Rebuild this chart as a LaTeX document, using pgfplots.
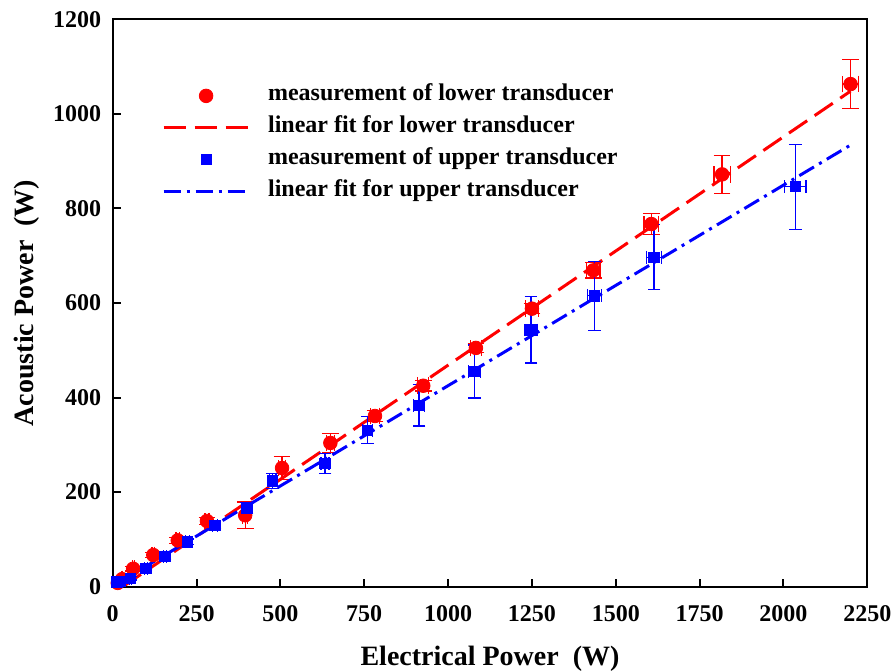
\documentclass[border=0pt]{standalone}
\usepackage{fontspec}
\setmainfont{Liberation Serif}
\usepackage{pgfplots}
\usepackage{pgfplotstable}
\pgfplotsset{compat=1.18}

\pgfplotstableread{
x y ex ey
15 8 1 3
28 16 2 4
61 38 3 5
121 67 4 6
194 98 5 6
281 139 6 7
395 151 8 28
505 251 10 25
649 304 12 20
782 361 14 12
926 425 16 11
1083 505 17 10
1250 588 19 11
1433 669 20 16
1606 767 22 22
1817 872 24 40
2200 1063 23 52
}\lowerdata

\pgfplotstableread{
x y ex ey
12 10 1 3
22 11 2 3
52 18 3 4
99 39 4 5
156 64 5 6
222 95 6 6
305 130 7 7
400 166 8 12
477 224 10 16
633 261 12 21
760 331 14 29
913 384 16 44
1078 455 18 56
1247 543 20 70
1436 615 21 73
1614 697 22 69
2035 846 32 90
}\upperdata

\begin{document}
\begin{tikzpicture}
\begin{axis}[
  scale only axis,
  width=377.3pt, height=283.7pt,
  xmin=0, xmax=2250, ymin=0, ymax=1200,
  xtick={0,250,...,2250},
  ytick={0,200,...,1200},
  xtick pos=lower, ytick pos=left,
  tick align=inside,
  major tick length=4pt,
  tick style={line width=1pt, black},
  axis line style={line width=1pt, black},
  /pgf/number format/assume math mode=true,
  /pgf/number format/1000 sep={},
  ticklabel style={font=\fontsize{12}{14}\selectfont\bfseries},
  xticklabel style={yshift=-6pt},
  yticklabel style={xshift=-2.3pt},
  xlabel={Electrical Power\ \ (W)},
  ylabel={Acoustic Power\ \ (W)},
  label style={font=\fontsize{14}{16}\selectfont\bfseries},
  xlabel style={at={(axis description cs:0.5,0)}, anchor=north, yshift=-26pt},
  ylabel style={at={(axis description cs:0,0.5)}, anchor=south, yshift=33pt},
  legend cell align=left,
  legend image code/.code={\draw[mark repeat=2,mark phase=2] plot coordinates {(0pt,0pt) (21.25pt,0pt) (42.5pt,0pt)};},
  legend style={at={(axis description cs:0,1)}, anchor=north west,
    xshift=24.5pt, yshift=-30.6pt, draw=none, fill=none,
    font=\fontsize{12}{14}\selectfont\bfseries,
    inner sep=0pt, row sep=0.9pt,
    /tikz/every odd column/.append style={column sep=7.5pt},
    nodes={inner sep=1.5pt, text height=8.5pt, text depth=3.5pt}},
]
\addplot[only marks, color=red, mark=*, mark size=3.4pt,
  error bars/.cd, x dir=both, x explicit, y dir=both, y explicit,
  error bar style={line width=0.6pt, red},
  error mark options={rotate=90, line width=0.6pt, mark size=4.2pt, red}]
  table[x=x, y=y, x error=ex, y error=ey] {\lowerdata};
\addlegendentry{measurement of lower transducer}

\addplot[color=red, line width=1.5pt, dash pattern=on 11pt off 4.5pt]
  coordinates {(30,0) (2200,1048)};
\addlegendentry{linear fit for lower transducer}

\addplot[only marks, color=blue, mark=square*, mark size=2.6pt,
  error bars/.cd, x dir=both, x explicit, y dir=both, y explicit,
  error bar style={line width=0.6pt, blue},
  error mark options={rotate=90, line width=0.6pt, mark size=3.2pt, blue}]
  table[x=x, y=y, x error=ex, y error=ey] {\upperdata};
\addlegendentry{measurement of upper transducer}

\addplot[color=blue, line width=1.5pt, dash pattern=on 8.5pt off 3pt on 1.5pt off 3pt]
  coordinates {(0,1) (2200,934)};
\addlegendentry{linear fit for upper transducer}
\end{axis}
\pgfresetboundingbox
\path[use as bounding box] ([xshift=-56.35pt,yshift=-42.65pt]current axis.south west) rectangle ([xshift=12.85pt,yshift=9.65pt]current axis.north east);
\end{tikzpicture}
\end{document}
